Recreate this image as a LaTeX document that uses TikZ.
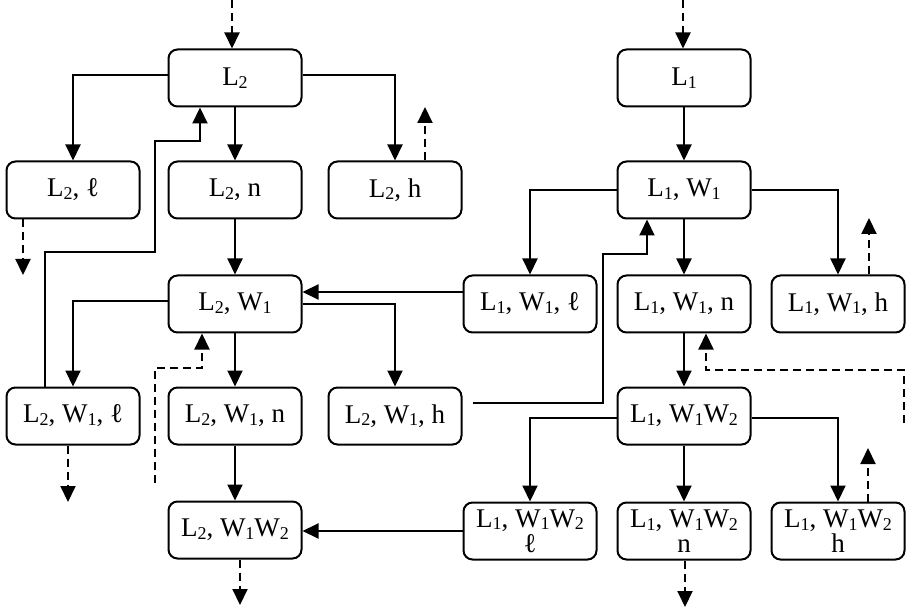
\documentclass[tikz,border=0pt]{standalone}
\usepackage{fontspec}
\setmainfont{Liberation Serif}
\usetikzlibrary{arrows.meta}
\newcommand\sbx[1]{\raisebox{-0.1em}{\fontsize{18}{18}\selectfont #1}}
\tikzset{
  box/.style={draw, line width=2pt, rounded corners=9pt, minimum width=133pt,
    minimum height=57pt, inner sep=0pt, align=center,
    font=\fontsize{27}{25}\selectfont},
  arr/.style={line width=2pt, -{Triangle[length=16pt,width=15pt]}},
  darr/.style={arr, dash pattern=on 8pt off 5pt}
}
\begin{document}
\begin{tikzpicture}[x=1pt,y=-1pt]
\useasboundingbox (0,0) rectangle (921,612);
% nodes
\node[box] (L2) at (235,78) {L\sbx{2}};
\node[box] (L2l) at (73,190) {L\sbx{2}, ℓ};
\node[box] (L2n) at (235,190) {L\sbx{2}, n};
\node[box] (L2h) at (395,190) {L\sbx{2}, h};
\node[box] (L2W1) at (235,304) {L\sbx{2}, W\sbx{1}};
\node[box] (L2W1l) at (73,416) {L\sbx{2}, W\sbx{1}, ℓ};
\node[box] (L2W1n) at (235,416) {L\sbx{2}, W\sbx{1}, n};
\node[box] (L2W1h) at (395,416) {L\sbx{2}, W\sbx{1}, h};
\node[box] (L2W1W2) at (235,530) {L\sbx{2}, W\sbx{1}W\sbx{2}};
\node[box] (L1) at (684,78) {L\sbx{1}};
\node[box] (L1W1) at (684,190) {L\sbx{1}, W\sbx{1}};
\node[box] (L1W1l) at (530,304) {L\sbx{1}, W\sbx{1}, ℓ};
\node[box] (L1W1n) at (684,304) {L\sbx{1}, W\sbx{1}, n};
\node[box] (L1W1h) at (838,304) {L\sbx{1}, W\sbx{1}, h};
\node[box] (L1W1W2) at (684,416) {L\sbx{1}, W\sbx{1}W\sbx{2}};
\node[box] (L1W1W2l) at (530,531) {L\sbx{1}, W\sbx{1}W\sbx{2}\\ℓ};
\node[box] (L1W1W2n) at (684,531) {L\sbx{1}, W\sbx{1}W\sbx{2}\\n};
\node[box] (L1W1W2h) at (838,531) {L\sbx{1}, W\sbx{1}W\sbx{2}\\h};
% free ends
\coordinate (t2) at (232,0);
\coordinate (t1) at (683,0);
\coordinate (u1) at (425,107);
\coordinate (u2) at (869,218);
\coordinate (u3) at (868,448);
\coordinate (b1) at (23,275);
\coordinate (b2) at (68,502);
\coordinate (b3) at (240,605);
\coordinate (b4) at (685,607);
\coordinate (d1) at (155,483);
\coordinate (d1c) at (202,368);
\coordinate (d2) at (904,423);
\coordinate (d2c) at (706,370);
\coordinate (fa) at (45,252);
\coordinate (fb) at (155,141);
\coordinate (fc) at (200,141);
\coordinate (ga) at (603,254);
\coordinate (gb) at (647,254);
% left tree
\draw[darr] (t2) -- (t2 |- L2.north);
\draw[arr] ([yshift=3pt]L2.west) -| (L2l.north);
\draw[arr] ([yshift=3pt]L2.east) -| (L2h.north);
\draw[arr] (L2.south) -- (L2n.north);
\draw[darr] (u1 |- L2h.north) -- (u1);
\draw[darr] (b1 |- L2l.south) -- (b1);
\draw[arr] (L2n.south) -- (L2W1.north);
\draw[arr] (fa |- L2W1l.north) -- (fa) -| (fb) -- (fc) -- (fc |- L2.south);
\draw[arr] ([yshift=3pt]L2W1.west) -| (L2W1l.north);
\draw[arr] (L2W1.east) -| (L2W1h.north);
\draw[arr] (L2W1.south) -- (L2W1n.north);
\draw[arr] (L2W1n.south) -- (L2W1W2.north);
\draw[darr] (d1) |- (d1c) -- (d1c |- L2W1.south);
\draw[darr] (b2 |- L2W1l.south) -- (b2);
\draw[darr] (b3 |- L2W1W2.south) -- (b3);
% cross links
\draw[arr] ([yshift=12pt]L1W1l.west) -- ([yshift=12pt]L2W1.east);
\draw[arr] (L1W1W2l.west) -- (L1W1W2l.west -| L2W1W2.east);
\draw[arr] ([xshift=10pt,yshift=13pt]L2W1h.east) -| (ga) -- (gb) -- (gb |- L1W1.south);
% right tree
\draw[darr] (t1) -- (t1 |- L1.north);
\draw[arr] (L1.south) -- (L1W1.north);
\draw[arr] (L1W1.west) -| (L1W1l.north);
\draw[arr] (L1W1.east) -| (L1W1h.north);
\draw[arr] (L1W1.south) -- (L1W1n.north);
\draw[darr] (u2 |- L1W1h.north) -- (u2);
\draw[arr] (L1W1n.south) -- (L1W1W2.north);
\draw[darr] (d2) |- (d2c) -- (d2c |- L1W1n.south);
\draw[arr] ([yshift=-2pt]L1W1W2.west) -| (L1W1W2l.north);
\draw[arr] ([yshift=-2pt]L1W1W2.east) -| (L1W1W2h.north);
\draw[arr] (L1W1W2.south) -- (L1W1W2n.north);
\draw[darr] (u3 |- L1W1W2h.north) -- (u3);
\draw[darr] (b4 |- L1W1W2n.south) -- (b4);
\end{tikzpicture}
\end{document}
